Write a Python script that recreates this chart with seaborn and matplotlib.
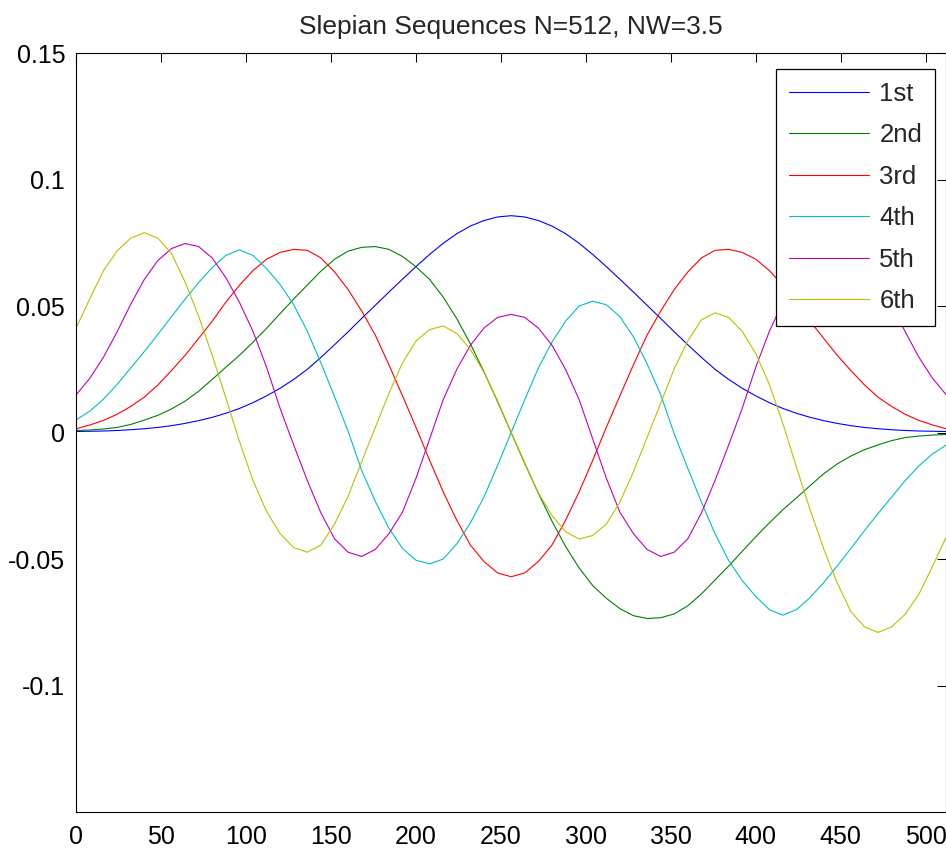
import matplotlib
matplotlib.use("Agg")
import matplotlib.pyplot as plt
import pandas as pd
import seaborn as sns

# Sample positions along the sequence (every 8th sample of N=512)
sample_index = list(range(0, 513, 8))

seq_labels = ["1st", "2nd", "3rd", "4th", "5th", "6th"]

seq_1st = [
    0.0004, 0.0005, 0.0006, 0.0008, 0.0011, 0.0015, 0.0020, 0.0027, 0.0036, 0.0047, 0.0060,
    0.0076, 0.0095, 0.0118, 0.0145, 0.0175, 0.0210, 0.0250, 0.0297, 0.0347, 0.0398, 0.0451,
    0.0503, 0.0555, 0.0606, 0.0656, 0.0704, 0.0748, 0.0786, 0.0816, 0.0838, 0.0852, 0.0857,
    0.0852, 0.0838, 0.0816, 0.0786, 0.0748, 0.0704, 0.0656, 0.0606, 0.0555, 0.0503, 0.0451,
    0.0398, 0.0347, 0.0297, 0.0250, 0.0210, 0.0175, 0.0145, 0.0118, 0.0095, 0.0076, 0.0060,
    0.0047, 0.0036, 0.0027, 0.0020, 0.0015, 0.0011, 0.0008, 0.0006, 0.0005, 0.0004,
]
seq_2nd = [
    0.0008, 0.0010, 0.0014, 0.0020, 0.0032, 0.0049, 0.0068, 0.0093, 0.0124, 0.0163, 0.0210,
    0.0258, 0.0305, 0.0357, 0.0412, 0.0470, 0.0528, 0.0583, 0.0638, 0.0685, 0.0717, 0.0732,
    0.0735, 0.0724, 0.0696, 0.0655, 0.0605, 0.0535, 0.0450, 0.0350, 0.0240, 0.0122, 0.0,
    -0.0122, -0.0240, -0.0350, -0.0450, -0.0535, -0.0605, -0.0655, -0.0696, -0.0724, -0.0735,
    -0.0732, -0.0717, -0.0685, -0.0638, -0.0583, -0.0528, -0.0470, -0.0412, -0.0357, -0.0305,
    -0.0258, -0.0210, -0.0163, -0.0124, -0.0093, -0.0068, -0.0049, -0.0032, -0.0020, -0.0014,
    -0.0010, -0.0008,
]
seq_3rd = [
    0.0015, 0.0030, 0.0048, 0.0072, 0.0103, 0.0140, 0.0188, 0.0245, 0.0305, 0.0372, 0.0440,
    0.0515, 0.0582, 0.0640, 0.0685, 0.0712, 0.0724, 0.0720, 0.0690, 0.0635, 0.0565, 0.0480,
    0.0385, 0.0268, 0.0145, 0.0020, -0.0110, -0.0235, -0.0347, -0.0445, -0.0510, -0.0555,
    -0.0570,
    -0.0555, -0.0510, -0.0445, -0.0347, -0.0235, -0.0110, 0.0020, 0.0145, 0.0268, 0.0385,
    0.0480, 0.0565, 0.0635, 0.0690, 0.0720, 0.0724, 0.0712, 0.0685, 0.0640, 0.0582, 0.0515,
    0.0440, 0.0372, 0.0305, 0.0245, 0.0188, 0.0140, 0.0103, 0.0072, 0.0048, 0.0030, 0.0015,
]
seq_4th = [
    0.0050, 0.0085, 0.0132, 0.0190, 0.0255, 0.0320, 0.0388, 0.0458, 0.0527, 0.0593, 0.0652,
    0.0700, 0.0722, 0.0700, 0.0648, 0.0585, 0.0505, 0.0400, 0.0275, 0.0142, 0.0005, -0.0150,
    -0.0272, -0.0378, -0.0458, -0.0505, -0.0519, -0.0500, -0.0440, -0.0357, -0.0255, -0.0130,
    0.0,
    0.0130, 0.0255, 0.0357, 0.0440, 0.0500, 0.0519, 0.0505, 0.0458, 0.0378, 0.0272, 0.0150,
    -0.0005, -0.0142, -0.0275, -0.0400, -0.0505, -0.0585, -0.0648, -0.0700, -0.0722, -0.0700,
    -0.0652, -0.0593, -0.0527, -0.0458, -0.0388, -0.0320, -0.0255, -0.0190, -0.0132, -0.0085,
    -0.0050,
]
seq_5th = [
    0.0150, 0.0215, 0.0298, 0.0398, 0.0507, 0.0605, 0.0680, 0.0727, 0.0747, 0.0735, 0.0690,
    0.0612, 0.0515, 0.0400, 0.0258, 0.0095, -0.0050, -0.0190, -0.0318, -0.0420, -0.0473,
    -0.0490, -0.0462, -0.0400, -0.0315, -0.0180, -0.0025, 0.0130, 0.0250, 0.0345, 0.0413,
    0.0455, 0.0467,
    0.0455, 0.0413, 0.0345, 0.0250, 0.0130, -0.0025, -0.0180, -0.0315, -0.0400, -0.0462,
    -0.0490, -0.0473, -0.0420, -0.0318, -0.0190, -0.0050, 0.0095, 0.0258, 0.0400, 0.0515,
    0.0612, 0.0690, 0.0735, 0.0747, 0.0727, 0.0680, 0.0605, 0.0507, 0.0398, 0.0298, 0.0215,
    0.0150,
]
seq_6th = [
    0.0415, 0.0530, 0.0640, 0.0718, 0.0768, 0.0790, 0.0768, 0.0708, 0.0595, 0.0460, 0.0305,
    0.0138, -0.0035, -0.0190, -0.0312, -0.0400, -0.0455, -0.0473, -0.0445, -0.0362, -0.0252,
    -0.0115, 0.0020, 0.0155, 0.0275, 0.0362, 0.0407, 0.0421, 0.0392, 0.0328, 0.0238, 0.0125,
    0.0,
    -0.0125, -0.0238, -0.0328, -0.0392, -0.0421, -0.0407, -0.0362, -0.0275, -0.0155, -0.0020,
    0.0115, 0.0252, 0.0362, 0.0445, 0.0473, 0.0455, 0.0400, 0.0312, 0.0190, 0.0035, -0.0138,
    -0.0305, -0.0460, -0.0595, -0.0708, -0.0768, -0.0790, -0.0768, -0.0718, -0.0640, -0.0530,
    -0.0415,
]

x_ticks = [0, 50, 100, 150, 200, 250, 300, 350, 400, 450, 500]
y_ticks = [-0.1, -0.05, 0, 0.05, 0.1, 0.15]
y_tick_labels = ["-0.1", "-0.05", "0", "0.05", "0.1", "0.15"]

line_colors = ["#0000ff", "#008000", "#ff0000", "#00bfbf", "#bf00bf", "#bfbf00"]

sns.set_style("white")
plt.rcParams["font.family"] = ["Liberation Sans", "DejaVu Sans"]
plt.rcParams["axes.unicode_minus"] = False

all_series = [seq_1st, seq_2nd, seq_3rd, seq_4th, seq_5th, seq_6th]
df = pd.concat(
    [pd.DataFrame({"n": sample_index, "value": vals, "seq": lab})
     for lab, vals in zip(seq_labels, all_series)],
    ignore_index=True,
)

fig = plt.figure(figsize=(9.46, 8.51), dpi=100)
ax = fig.add_axes([0.0807, 0.0458, 0.9193, 0.8919])

sns.lineplot(data=df, x="n", y="value", hue="seq", hue_order=seq_labels,
             palette=line_colors, linewidth=0.8, estimator=None, sort=False,
             legend=False, ax=ax)

ax.set_xlim(0, 512)
ax.set_ylim(-0.15, 0.15)
ax.set_xticks(x_ticks)
ax.set_xticklabels([str(t) for t in x_ticks])
ax.set_yticks(y_ticks)
ax.set_yticklabels(y_tick_labels)
ax.set_xlabel("")
ax.set_ylabel("")

for spine in ax.spines.values():
    spine.set_color("black")
    spine.set_linewidth(0.8)

ax.tick_params(axis="both", which="major", direction="in", length=6.3, width=0.75,
               top=True, right=True, labelsize=18, colors="black")
ax.tick_params(axis="y", pad=8)
ax.tick_params(axis="x", pad=9)

ax.set_title("Slepian Sequences N=512, NW=3.5", fontsize=19, pad=14)

leg = ax.legend(ax.lines[:6], seq_labels, loc="upper right",
                bbox_to_anchor=(0.9874, 0.9789), borderaxespad=0, frameon=True,
                fancybox=False, edgecolor="black", framealpha=1, fontsize=18.5,
                handlelength=3.1, handletextpad=0.42, labelspacing=0.68, borderpad=0.5)
leg.get_frame().set_linewidth(0.9)

fig.savefig("out.png", dpi=100, facecolor="white")
